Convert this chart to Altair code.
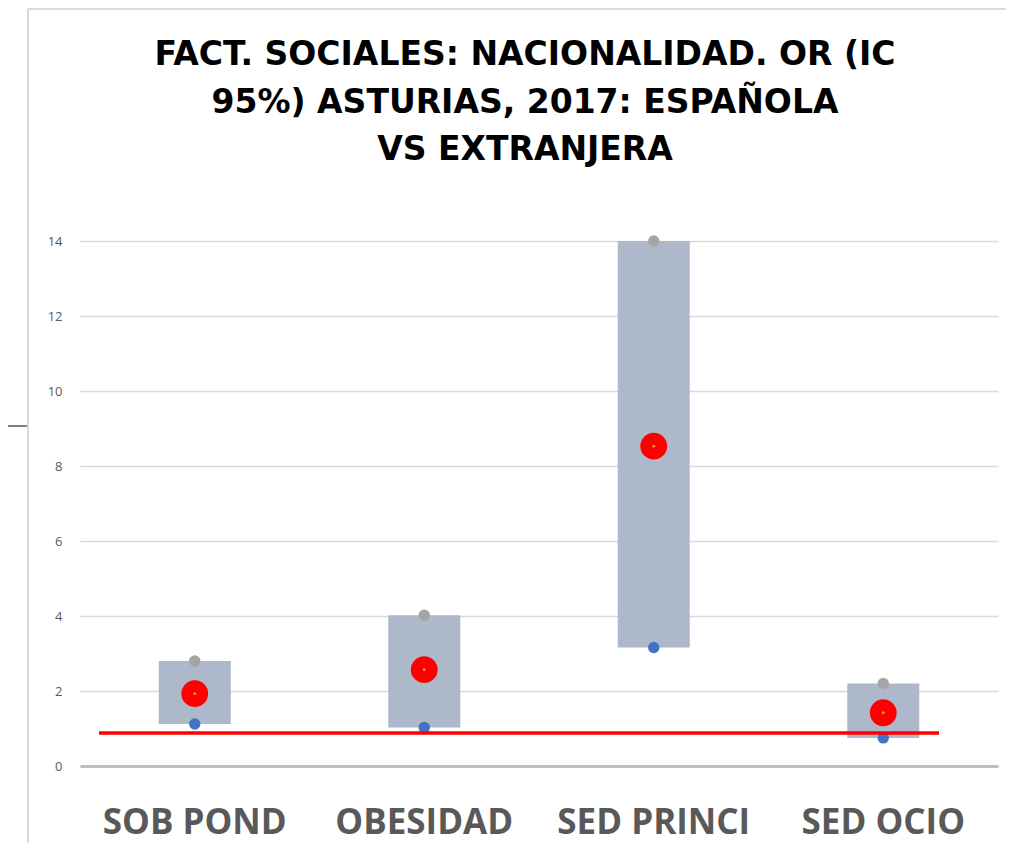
import altair as alt
import pandas as pd

categories = ["SOB POND", "OBESIDAD", "SED PRINCI", "SED OCIO"]
ic_low = [1.12, 1.03, 3.16, 0.75]
ic_high = [2.8, 4.02, 14.0, 2.2]
odds_ratio = [1.93, 2.57, 8.53, 1.42]
ref_value = [0.88]
y_ticks = [0, 2, 4, 6, 8, 10, 12, 14]
title_lines = ["FACT. SOCIALES: NACIONALIDAD. OR (IC", "95%) ASTURIAS, 2017: ESPAÑOLA", "VS EXTRANJERA"]

df = pd.DataFrame({"cat": categories, "low": ic_low, "high": ic_high, "or": odds_ratio})
ref_df = pd.DataFrame({"start": [categories[0]], "end": [categories[-1]], "v": ref_value})
frame_df = pd.DataFrame({"k": [0]})

W, H = 918, 525

xscale = alt.Scale(domain=categories, paddingInner=0, paddingOuter=0)
yscale = alt.Scale(domain=[0, 14], nice=False)

x_enc = alt.X("cat:N", scale=xscale, sort=categories,
              axis=alt.Axis(title=None, labelAngle=0, ticks=False, tickSize=0, grid=False,
                            labelFont="Open Sans", labelFontSize=35, labelFontWeight="bold",
                            labelColor="#595959", labelPadding=39.5, labelLimit=400,
                            domainColor="#bfbfbf", domainWidth=3))
y_enc = alt.Y("low:Q", scale=yscale,
              axis=alt.Axis(title=None, values=y_ticks, ticks=False, tickSize=0, domain=False,
                            labelFont="Open Sans", labelFontSize=13, labelColor="#595959",
                            labelPadding=18, gridColor="#d9d9d9", gridWidth=1.5))

base = alt.Chart(df)

bars = base.mark_bar(size=72, color="#adb9ca").encode(x=x_enc, y=y_enc, y2="high:Q")

low_pts = base.mark_circle(size=130, color="#4472c4", opacity=1).encode(
    x=alt.X("cat:N", scale=xscale, sort=categories), y=alt.Y("low:Q", scale=yscale))
high_pts = base.mark_circle(size=130, color="#a5a5a5", opacity=1).encode(
    x=alt.X("cat:N", scale=xscale, sort=categories), y=alt.Y("high:Q", scale=yscale))

ref_line = alt.Chart(ref_df).mark_rule(color="#ff0000", strokeWidth=3.5).encode(
    x=alt.X("start:N", scale=xscale, bandPosition=0.083),
    x2=alt.X2("end:N", bandPosition=0.743),
    y=alt.Y("v:Q", scale=yscale))

or_pts = base.mark_circle(size=720, color="#ff0000", opacity=1).encode(
    x=alt.X("cat:N", scale=xscale, sort=categories), y=alt.Y("or:Q", scale=yscale))
or_inner = base.mark_circle(size=8, color="#ed9a31", opacity=1).encode(
    x=alt.X("cat:N", scale=xscale, sort=categories), y=alt.Y("or:Q", scale=yscale))

frame_top = alt.Chart(frame_df).mark_rule(color="#d9d9d9", strokeWidth=2, clip=False).encode(
    x=alt.value(-52), x2=alt.value(W + 8), y=alt.value(-232))
frame_left = alt.Chart(frame_df).mark_rule(color="#d9d9d9", strokeWidth=2, clip=False).encode(
    x=alt.value(-52), y=alt.value(-232), y2=alt.value(H + 80))
frame_tick = alt.Chart(frame_df).mark_rule(color="#808080", strokeWidth=2, clip=False).encode(
    x=alt.value(-72), x2=alt.value(-53), y=alt.value(185))

title_text = alt.Chart(frame_df).mark_text(
    font="DejaVu Sans", fontSize=33, fontWeight="bold", color="#000000",
    align="center", baseline="top", lineHeight=47.5, clip=False
).encode(x=alt.value(W / 2 - 14), y=alt.value(-202), text=alt.value(title_lines))

chart = alt.layer(
    frame_top, frame_left, frame_tick, title_text,
    bars, low_pts, high_pts, ref_line, or_pts, or_inner
).properties(
    width=W, height=H,
    autosize=alt.AutoSizeParams(type="none"),
    padding={"left": 72, "top": 233, "right": 8, "bottom": 80},
).configure_view(strokeWidth=0)

chart.save("out.html", embed_options={"renderer": "svg", "actions": False})
